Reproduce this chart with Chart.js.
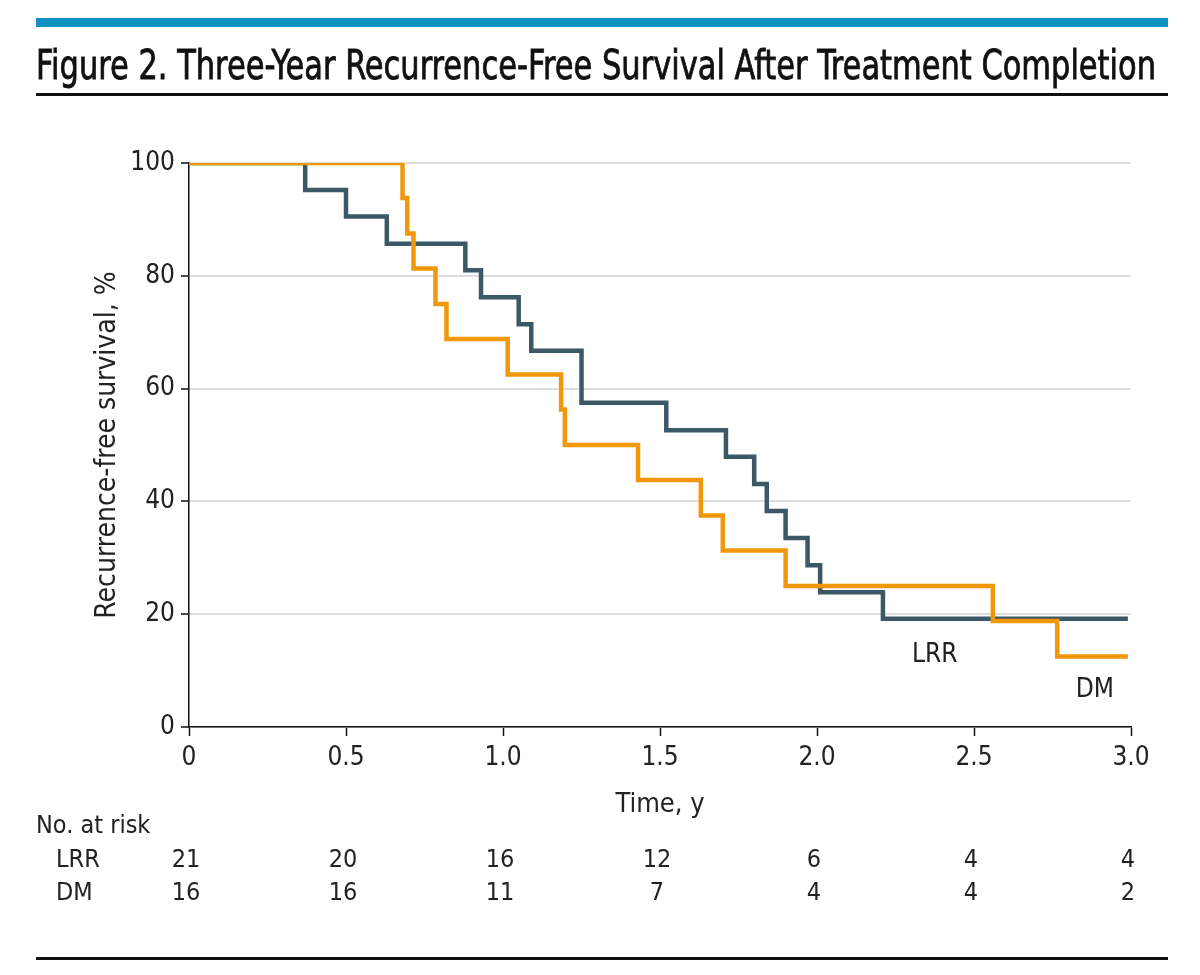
<!DOCTYPE html>
<html>
<head>
<meta charset="utf-8">
<script src="https://cdn.jsdelivr.net/npm/chart.js@4"></script>
<style>
  html, body { margin: 0; padding: 0; background: #fff; }
  canvas { display: block; }
</style>
</head>
<body>
<canvas id="km" width="1200" height="975" style="width:1200px;height:975px"></canvas>
<script>
// Kaplan-Meier steps (time in years, survival in %)
var lrrTimes = [0, 0.37, 0.50, 0.63, 0.88, 0.93, 1.05, 1.09, 1.25, 1.52, 1.71, 1.80, 1.84, 1.90, 1.97, 2.01, 2.21, 2.99];
var lrrSurv  = [100, 95.2, 90.5, 85.7, 81.0, 76.2, 71.4, 66.7, 57.5, 52.6, 47.9, 43.1, 38.3, 33.5, 28.7, 23.9, 19.2, 19.2];
var dmTimes  = [0, 0.68, 0.695, 0.715, 0.785, 0.82, 1.015, 1.185, 1.197, 1.43, 1.63, 1.70, 1.90, 2.56, 2.765, 2.99];
var dmSurv   = [100, 93.8, 87.5, 81.3, 75.0, 68.8, 62.5, 56.3, 50.0, 43.8, 37.5, 31.3, 25.0, 18.8, 12.5, 12.5];

// number at risk table
var riskTimes = [0, 0.5, 1.0, 1.5, 2.0, 2.5, 3.0];
var lrrRisk = [21, 20, 16, 12, 6, 4, 4];
var dmRisk  = [16, 16, 11, 7, 4, 4, 2];

var FONT = '"Liberation Sans Narrow", "DejaVu Sans Condensed", "Noto Sans", sans-serif';
var ORANGE = "#f0980a";
var SLATE = "#3b5866";

function pts(xs, ys) {
  return xs.map(function (x, i) { return { x: x, y: ys[i] }; });
}

var extras = {
  id: "extras",
  afterDraw: function (chart) {
    var ctx = chart.ctx;
    var xs = chart.scales.x;
    var ys = chart.scales.y;
    var area = chart.chartArea;
    ctx.save();

    // header bar, title, rules
    ctx.fillStyle = "#0f91c1";
    ctx.fillRect(36, 18, 1132, 9);
    ctx.fillStyle = "#111";
    ctx.fillRect(36, 93, 1132, 3);
    ctx.fillRect(36, 957, 1132, 3);

    var title = "Figure 2. Three-Year Recurrence-Free Survival After Treatment Completion";
    ctx.font = "40px " + FONT;
    var w = ctx.measureText(title).width;
    ctx.save();
    ctx.translate(36, 79);
    ctx.scale(1120 / w, 1);
    ctx.textAlign = "left";
    ctx.textBaseline = "alphabetic";
    ctx.lineWidth = 0.8;
    ctx.strokeStyle = "#111";
    ctx.fillText(title, 0, 0);
    ctx.strokeText(title, 0, 0);
    ctx.restore();

    // axis titles
    ctx.fillStyle = "#222";
    ctx.font = "27px " + FONT;
    ctx.textAlign = "center";
    ctx.textBaseline = "middle";
    ctx.fillText("Time, y", (area.left + area.right) / 2, 805);
    ctx.save();
    ctx.translate(108, (area.top + area.bottom) / 2);
    ctx.rotate(-Math.PI / 2);
    ctx.font = "28px " + FONT;
    ctx.fillText("Recurrence-free survival, %", 0, 0);
    ctx.restore();

    // curve labels
    ctx.font = "26px " + FONT;
    ctx.fillText("LRR", xs.getPixelForValue(2.375), ys.getPixelForValue(12.8));
    ctx.fillText("DM", xs.getPixelForValue(2.885), ys.getPixelForValue(6.6));

    // risk table
    ctx.font = "25px " + FONT;
    ctx.textAlign = "left";
    ctx.fillText("No. at risk", 36, 826);
    ctx.fillText("LRR", 56, 860);
    ctx.fillText("DM", 56, 893);
    ctx.textAlign = "center";
    riskTimes.forEach(function (t, i) {
      var px = xs.getPixelForValue(t);
      ctx.fillText(String(lrrRisk[i]), px - 3, 860);
      ctx.fillText(String(dmRisk[i]), px - 3, 893);
    });
    ctx.restore();
  }
};

new Chart(document.getElementById("km"), {
  type: "line",
  data: {
    datasets: [
      {
        label: "DM",
        data: pts(dmTimes, dmSurv),
        borderColor: ORANGE,
        borderWidth: 4.5,
        stepped: "before",
        pointRadius: 0,
        fill: false
      },
      {
        label: "LRR",
        data: pts(lrrTimes, lrrSurv),
        borderColor: SLATE,
        borderWidth: 4.5,
        stepped: "before",
        pointRadius: 0,
        fill: false
      }
    ]
  },
  options: {
    responsive: false,
    animation: false,
    devicePixelRatio: 1,
    layout: { padding: { top: 163, right: 69, left: 0, bottom: 0 } },
    plugins: {
      legend: { display: false },
      tooltip: { enabled: false }
    },
    scales: {
      x: {
        type: "linear",
        min: 0,
        max: 3,
        afterFit: function (s) { s.height = 248; },
        ticks: {
          stepSize: 0.5,
          color: "#222",
          padding: 7,
          maxRotation: 0,
          font: { family: FONT, size: 26 },
          callback: function (v) { return v === 0 ? "0" : v.toFixed(1); }
        },
        grid: { drawOnChartArea: false, drawTicks: true, tickLength: 9, tickColor: "#111", tickWidth: 1.5 },
        border: { color: "#111", width: 1.5 }
      },
      y: {
        min: 0,
        max: 100,
        afterFit: function (s) { s.width = 189; },
        ticks: {
          stepSize: 20,
          color: "#222",
          padding: 6,
          font: { family: FONT, size: 26 }
        },
        grid: { color: "#dedede", lineWidth: 2, drawTicks: true, tickLength: 8, tickColor: "#111", tickWidth: 1.5 },
        border: { color: "#111", width: 1.5 }
      }
    }
  },
  plugins: [extras]
});
</script>
</body>
</html>
